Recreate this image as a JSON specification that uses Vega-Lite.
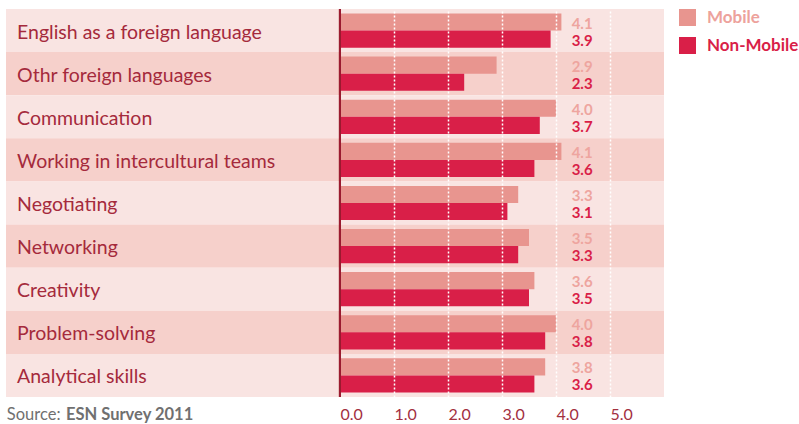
{
  "$schema": "https://vega.github.io/schema/vega-lite/v6.json",
  "width": 793,
  "height": 388,
  "autosize": {"type": "none"},
  "padding": {"left": 6, "top": 9, "right": 0, "bottom": 27},
  "background": "white",
  "config": {"view": {"stroke": null}, "font": "Lato"},
  "data": {
    "values": [
      {"skill": "English as a foreign language", "group": "Mobile", "value": 4.1},
      {"skill": "English as a foreign language", "group": "Non-Mobile", "value": 3.9},
      {"skill": "Othr foreign languages", "group": "Mobile", "value": 2.9},
      {"skill": "Othr foreign languages", "group": "Non-Mobile", "value": 2.3},
      {"skill": "Communication", "group": "Mobile", "value": 4.0},
      {"skill": "Communication", "group": "Non-Mobile", "value": 3.7},
      {"skill": "Working in intercultural teams", "group": "Mobile", "value": 4.1},
      {"skill": "Working in intercultural teams", "group": "Non-Mobile", "value": 3.6},
      {"skill": "Negotiating", "group": "Mobile", "value": 3.3},
      {"skill": "Negotiating", "group": "Non-Mobile", "value": 3.1},
      {"skill": "Networking", "group": "Mobile", "value": 3.5},
      {"skill": "Networking", "group": "Non-Mobile", "value": 3.3},
      {"skill": "Creativity", "group": "Mobile", "value": 3.6},
      {"skill": "Creativity", "group": "Non-Mobile", "value": 3.5},
      {"skill": "Problem-solving", "group": "Mobile", "value": 4.0},
      {"skill": "Problem-solving", "group": "Non-Mobile", "value": 3.8},
      {"skill": "Analytical skills", "group": "Mobile", "value": 3.8},
      {"skill": "Analytical skills", "group": "Non-Mobile", "value": 3.6}
    ]
  },
  "layer": [
    {
      "transform": [
        {"filter": "datum.group === 'Mobile'"},
        {"window": [{"op": "row_number", "as": "rn"}]}
      ],
      "mark": {"type": "rect"},
      "encoding": {
        "y": {"field": "skill", "type": "nominal", "sort": null, "axis": null,
              "scale": {"paddingInner": 0, "paddingOuter": 0}},
        "x": {"datum": -6.185, "type": "quantitative",
              "scale": {"domain": [-6.185, 8.5], "nice": false, "zero": false},
              "axis": {"values": [0, 1, 2, 3, 4, 5], "format": ".1f", "labelAlign": "left",
                       "labelColor": "#a3303f", "labelFontSize": 16, "labelPadding": 9,
                       "ticks": false, "domain": false, "grid": true,
                       "gridColor": {"condition": {"test": "datum.value === 0", "value": "transparent"}, "value": "#ffffff"},
                       "gridDash": [2, 2], "gridWidth": 1.5, "zindex": 1, "title": null}},
        "x2": {"datum": 6.0},
        "color": {"condition": {"test": "datum.rn % 2 === 0", "value": "#f6d0cb"}, "value": "#f9e4e2"}
      }
    },
    {
      "transform": [{"filter": "datum.group === 'Mobile'"}],
      "mark": {"type": "text", "align": "left", "baseline": "middle", "fontSize": 19.5, "dy": 2, "color": "#a52a3c"},
      "encoding": {
        "y": {"field": "skill", "type": "nominal", "sort": null},
        "x": {"datum": -5.98, "type": "quantitative"},
        "text": {"field": "skill"}
      }
    },
    {
      "mark": {"type": "bar", "orient": "horizontal"},
      "encoding": {
        "y": {"field": "skill", "type": "nominal", "sort": null},
        "yOffset": {"field": "group", "type": "nominal", "sort": ["Mobile", "Non-Mobile"],
                    "scale": {"paddingInner": 0, "paddingOuter": 0.26}},
        "x": {"field": "value", "type": "quantitative"},
        "x2": {"datum": 0},
        "color": {"field": "group", "type": "nominal",
                  "scale": {"domain": ["Mobile", "Non-Mobile"], "range": ["#e8958f", "#d91f48"]},
                  "legend": {"orient": "none", "legendX": 673, "legendY": 0, "title": null,
                             "symbolType": "square", "symbolSize": 289, "symbolStrokeWidth": 0,
                             "symbolOpacity": 1,
                             "labelFontSize": 17, "labelFontWeight": "bold", "labelOffset": 11,
                             "rowPadding": 10,
                             "labelColor": {"expr": "datum.label === 'Mobile' ? '#eda29c' : '#d91f48'"}}}
      }
    },
    {
      "mark": {"type": "rule", "color": "#9b1b30", "strokeWidth": 2},
      "encoding": {"x": {"datum": 0, "type": "quantitative"}}
    },
    {
      "mark": {"type": "text", "align": "left", "baseline": "middle", "fontSize": 15, "dy": 1.5, "fontWeight": "bold"},
      "encoding": {
        "y": {"field": "skill", "type": "nominal", "sort": null},
        "yOffset": {"field": "group", "type": "nominal", "sort": ["Mobile", "Non-Mobile"]},
        "x": {"datum": 4.29, "type": "quantitative"},
        "text": {"field": "value", "type": "quantitative", "format": ".1f"},
        "color": {"condition": {"test": "datum.group === 'Mobile'", "value": "#eea59f"}, "value": "#d91f48"}
      }
    },
    {
      "transform": [{"filter": "datum.skill === 'Analytical skills' && datum.group === 'Mobile'"}],
      "mark": {"type": "text", "align": "left", "baseline": "middle", "fontSize": 16.5, "dy": 40, "color": "#707070"},
      "encoding": {
        "y": {"field": "skill", "type": "nominal", "sort": null},
        "x": {"datum": -6.17, "type": "quantitative"},
        "text": {"value": "Source:"}
      }
    },
    {
      "transform": [{"filter": "datum.skill === 'Analytical skills' && datum.group === 'Mobile'"}],
      "mark": {"type": "text", "align": "left", "baseline": "middle", "fontSize": 16.5, "dy": 40, "color": "#707070", "fontWeight": "bold"},
      "encoding": {
        "y": {"field": "skill", "type": "nominal", "sort": null},
        "x": {"datum": -5.074, "type": "quantitative"},
        "text": {"value": "ESN Survey 2011"}
      }
    }
  ]
}
